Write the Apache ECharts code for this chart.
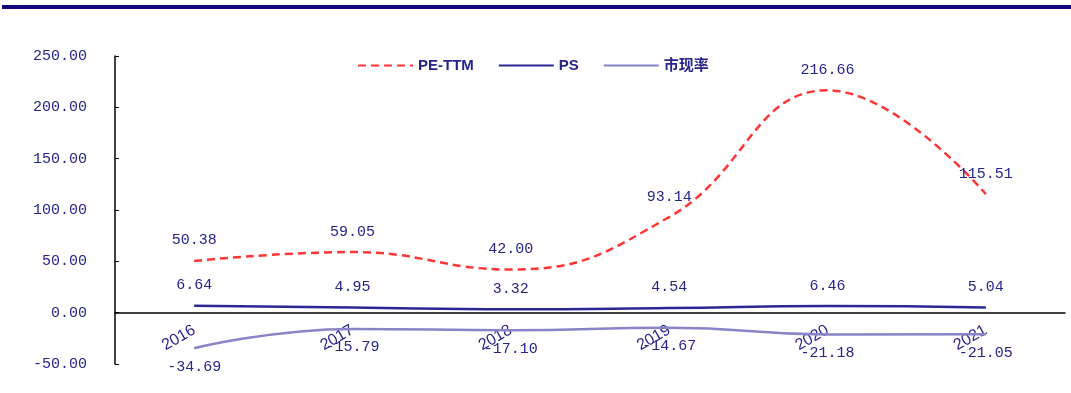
<!DOCTYPE html>
<html>
<head>
<meta charset="utf-8">
<script src="https://cdn.jsdelivr.net/npm/echarts@6/dist/echarts.min.js"></script>
<style>
  html, body { margin: 0; padding: 0; background: #fff; }
  #chart { width: 1071px; height: 393px; }
</style>
</head>
<body>
<div id="chart"></div>
<script>
// 数据
const years = ["2016", "2017", "2018", "2019", "2020", "2021"]
const peTTM = [50.38, 59.05, 42.00, 93.14, 216.66, 115.51]
const ps = [6.64, 4.95, 3.32, 4.54, 6.46, 5.04]
const pcf = [-34.69, -15.79, -17.10, -14.67, -21.18, -21.05]   // 市现率

const navy = "#25258c"
const numFont = "'Liberation Mono', 'DejaVu Sans Mono', monospace"

function numLabel(pos, dist) {
  return {
    show: true,
    position: pos,
    distance: dist,
    color: navy,
    fontSize: 15,
    fontFamily: numFont,
    formatter: p => p.value.toFixed(2)
  }
}

let chart = echarts.init(document.getElementById("chart"))
chart.setOption({
  animation: false,
  graphic: [{
    type: "rect",
    shape: { x: 2, y: 5, width: 1069, height: 4 },
    style: { fill: "#14087c" }
  }],
  legend: {
    left: 352,
    top: 53,
    itemWidth: 55,
    itemHeight: 12,
    itemGap: 24,
    textStyle: { color: navy, fontSize: 15, fontWeight: "bold", fontFamily: "Arial, 'Liberation Sans', 'Noto Sans CJK SC'" },
    data: ["PE-TTM", "PS", "市现率"]
  },
  grid: {
    left: 115,
    right: 6,
    top: 56,
    bottom: 29,
    containLabel: false
  },
  xAxis: {
    type: "category",
    data: years,
    boundaryGap: true,
    axisLine: { onZero: true, lineStyle: { color: "#000", width: 1.5 } },
    axisTick: { inside: true, length: 4, lineStyle: { color: "#000" } },
    axisLabel: {
      rotate: 30,
      margin: -35,
      color: navy,
      fontSize: 16,
      fontFamily: "Arial, 'Liberation Sans'"
    }
  },
  yAxis: {
    type: "value",
    min: -50,
    max: 250,
    interval: 50,
    splitLine: { show: false },
    axisLine: { show: true, lineStyle: { color: "#000", width: 1.5 } },
    axisTick: { show: true, inside: true, length: 4, lineStyle: { color: "#000" } },
    axisLabel: {
      margin: 28,
      color: navy,
      fontSize: 15,
      fontFamily: numFont,
      formatter: v => v.toFixed(2)
    }
  },
  series: [
    {
      name: "PE-TTM",
      type: "line",
      data: peTTM,
      smooth: 0.45,
      symbol: "circle",
      symbolSize: 2,
      showSymbol: true,
      lineStyle: { color: "#ff3535", width: 2.5, type: [8, 5] },
      itemStyle: { color: "rgba(255,53,53,0)" },
      label: numLabel("top", 12),
      labelLayout: { hideOverlap: false },
      z: 3
    },
    {
      name: "PS",
      type: "line",
      data: ps,
      smooth: true,
      symbol: "circle",
      symbolSize: 2,
      showSymbol: true,
      lineStyle: { color: "#2b2894", width: 2.5 },
      itemStyle: { color: "rgba(43,40,148,0)" },
      label: numLabel("top", 12),
      labelLayout: { hideOverlap: false }
    },
    {
      name: "市现率",
      type: "line",
      data: pcf,
      smooth: true,
      symbol: "circle",
      symbolSize: 2,
      showSymbol: true,
      lineStyle: { color: "#8884c6", width: 2.5 },
      itemStyle: { color: "rgba(136,132,198,0)" },
      label: numLabel("bottom", 10),
      labelLayout: { hideOverlap: false }
    }
  ]
})
</script>
</body>
</html>
